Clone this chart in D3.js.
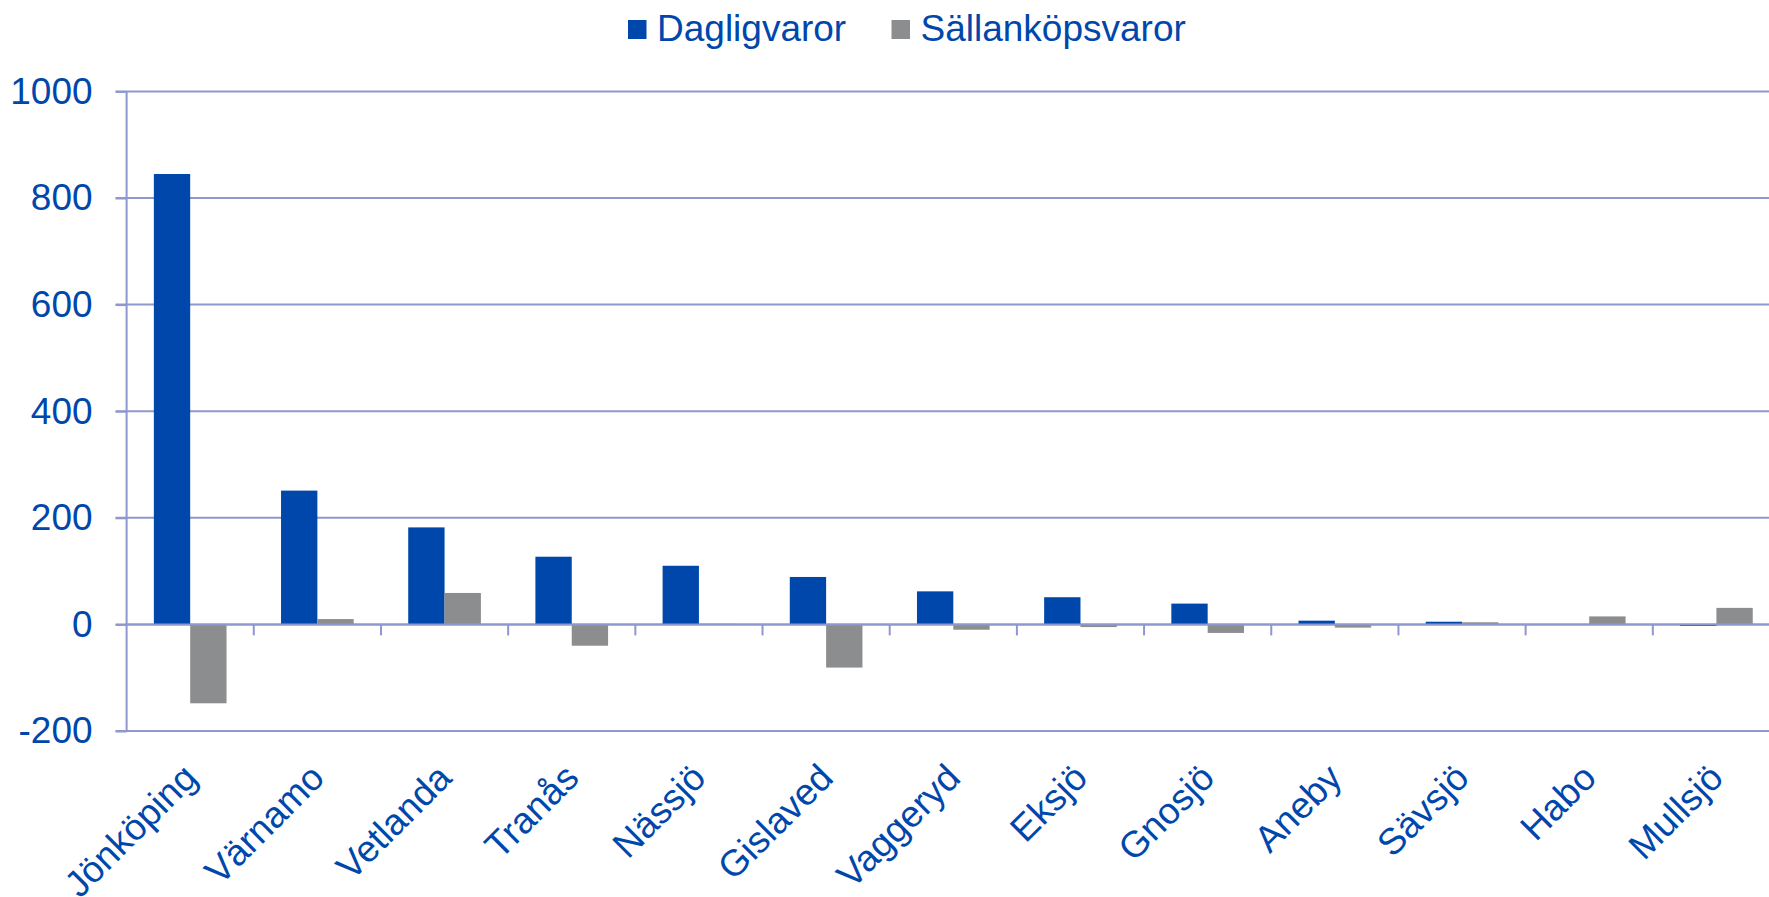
<!DOCTYPE html>
<html>
<head>
<meta charset="utf-8">
<script src="https://cdn.jsdelivr.net/npm/d3@7"></script>
<style>
  html, body { margin: 0; padding: 0; background: #fff; overflow: hidden; }
  text { font-family: "Liberation Sans", Arial, sans-serif; fill: #0047ab; }
</style>
</head>
<body>
<script>
var categories = ['Jönköping', 'Värnamo', 'Vetlanda', 'Tranås', 'Nässjö', 'Gislaved', 'Vaggeryd',
                  'Eksjö', 'Gnosjö', 'Aneby', 'Sävsjö', 'Habo', 'Mullsjö'];
var dagligvaror = [845, 251, 182, 127, 110, 89, 62, 51, 39, 7, 5, 0, -3];
var sallankop = [-148, 10, 59, -40, 1, -81, -10, -5, -16, -6, 4, 15, 31];
var seriesNames = ['Dagligvaror', 'Sällanköpsvaror'];
var seriesColors = ['#0047ab', '#8c8d8f'];
var yTicks = [-200, 0, 200, 400, 600, 800, 1000];

var width = 1769, height = 897;
var plotL = 126.6, plotR = 1780, plotT = 91.4, plotB = 731;
var gridColor = '#8e97ce';

var svg = d3.select('body').append('svg').attr('width', width).attr('height', height);

var x = d3.scaleBand().domain(categories).range([plotL, plotR]).padding(0);
var y = d3.scaleLinear().domain([-200, 1000]).range([plotB, plotT]);
var barW = x.step() / 3.5;

/* gridlines */
svg.append('g').selectAll('line').data(yTicks).enter().append('line')
  .attr('x1', plotL - 11).attr('x2', plotR)
  .attr('y1', function(d){ return y(d); }).attr('y2', function(d){ return y(d); })
  .style('stroke', gridColor).style('stroke-width', 2);

/* y axis labels */
var yAxis = svg.append('g').attr('transform', 'translate(' + plotL + ',0)')
  .call(d3.axisLeft(y).tickValues(yTicks).tickSize(11).tickPadding(23)
    .tickFormat(function(d){ return String(d); }));
yAxis.select('.domain').remove();
yAxis.selectAll('line').style('stroke', gridColor).style('stroke-width', 2);
yAxis.selectAll('text').style('font-size', '37px').style('fill', '#0047ab')
  .style('font-family', '"Liberation Sans", Arial, sans-serif');

/* vertical axis line */
svg.append('line').attr('x1', plotL).attr('x2', plotL).attr('y1', plotT).attr('y2', plotB)
  .style('stroke', gridColor).style('stroke-width', 2);

/* bars */
var series = [dagligvaror, sallankop];
series.forEach(function(vals, s){
  svg.append('g').selectAll('rect').data(vals).enter().append('rect')
    .attr('x', function(d, i){ return x(categories[i]) + barW * 0.75 + s * barW; })
    .attr('width', barW)
    .attr('y', function(d){ return Math.min(y(d), y(0)); })
    .attr('height', function(d){ return Math.abs(y(d) - y(0)); })
    .attr('fill', seriesColors[s]);
});

/* category axis at zero */
var xAxis = svg.append('g').attr('transform', 'translate(0,' + y(0) + ')');
xAxis.append('line').attr('x1', plotL).attr('x2', plotR).attr('y1', 0).attr('y2', 0)
  .style('stroke', gridColor).style('stroke-width', 2);
xAxis.selectAll('.tk').data(categories.slice(1)).enter().append('line')
  .attr('x1', function(d){ return x(d); }).attr('x2', function(d){ return x(d); })
  .attr('y1', 0).attr('y2', 11)
  .style('stroke', gridColor).style('stroke-width', 2);

/* category labels */
svg.append('g').selectAll('text').data(categories).enter().append('text')
  .attr('transform', function(d){
    return 'translate(' + (x(d) + x.bandwidth() / 2 + 9) + ',780) rotate(-45)';
  })
  .attr('text-anchor', 'end')
  .style('font-size', '37px')
  .text(function(d){ return d; });

/* legend */
var legend = svg.append('g');
var legendX = [628, 891.5];
seriesNames.forEach(function(name, s){
  legend.append('rect').attr('x', legendX[s]).attr('y', 20).attr('width', 18.5).attr('height', 19)
    .attr('fill', seriesColors[s]);
  legend.append('text').attr('x', legendX[s] + 29).attr('y', 40.5)
    .style('font-size', '37px').text(name);
});
</script>
</body>
</html>
